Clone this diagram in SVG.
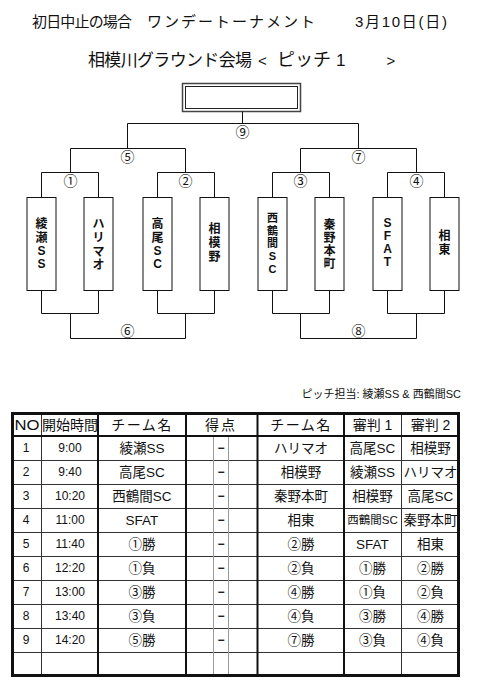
<svg xmlns="http://www.w3.org/2000/svg" width="481" height="696" viewBox="0 0 481 696">
<style>
text{font-family:"Liberation Sans","Noto Sans CJK JP",sans-serif;fill:#111}
.t1{font-size:15px;dominant-baseline:central}
.t2{font-size:17px;dominant-baseline:central}
.num{font-size:14px;text-anchor:middle;dominant-baseline:central;font-family:"Noto Sans CJK JP",sans-serif}
.box{fill:#fff;stroke:#111;stroke-width:1}
.vn{font-size:12px;font-weight:bold;text-anchor:middle;dominant-baseline:central}
.ln{fill:none;stroke:#111;stroke-width:1}
.c{text-anchor:middle;dominant-baseline:central;font-size:13.5px}
.d{text-anchor:middle;dominant-baseline:central;font-size:12px}
.m{text-anchor:middle;dominant-baseline:central;font-size:12px;font-weight:bold}
.h{text-anchor:middle;dominant-baseline:central;font-size:14px}
.thin{stroke:#333;stroke-width:1}
.thick{stroke:#111;stroke-width:2}
.grey{stroke:#999;stroke-width:1}
</style>

<g id="title">
<text class="t1" y="20.5"><tspan x="32" textLength="100" lengthAdjust="spacing">初日中止の場合</tspan><tspan x="147" textLength="168" lengthAdjust="spacing">ワンデートーナメント</tspan><tspan x="355" textLength="92" lengthAdjust="spacing">3月10日(日)</tspan></text>
<text class="t2" y="60" x="88" textLength="164" lengthAdjust="spacing">相模川グラウンド会場</text>
<text y="60" x="262.5" text-anchor="middle" style="font-size:15px;dominant-baseline:central">&lt;</text>
<text y="60" x="277" style="font-size:18px;dominant-baseline:central">ピッチ</text>
<text class="t2" y="60" x="336">1</text>
<text y="60" x="391" text-anchor="middle" style="font-size:15px;dominant-baseline:central">&gt;</text>
</g>

<g id="winner">
<rect x="182.5" y="83.5" width="118" height="28" fill="#fff" stroke="#444" stroke-width="1.5"/>
<rect x="185.5" y="86.5" width="112" height="22" fill="none" stroke="#222" stroke-width="1"/>
</g>

<g id="connectors">
<path class="ln" d="M242.5 111.5V123.5M127.5 123.5H358.5M127.5 123.5V148.5M358.5 123.5V148.5"/>
<path class="ln" d="M70.5 148.5H185.5M70.5 148.5V172.5M185.5 148.5V172.5"/>
<path class="ln" d="M300.5 148.5H416.5M300.5 148.5V172.5M416.5 148.5V172.5"/>
<path class="ln" d="M41.5 172.5H98.5M41.5 172.5V197.5M98.5 172.5V197.5"/>
<path class="ln" d="M157.5 172.5H214.5M157.5 172.5V197.5M214.5 172.5V197.5"/>
<path class="ln" d="M272.5 172.5H329.5M272.5 172.5V197.5M329.5 172.5V197.5"/>
<path class="ln" d="M387.5 172.5H444.5M387.5 172.5V197.5M444.5 172.5V197.5"/>
<path class="ln" d="M41.5 290.5V313.5H98.5V290.5M157.5 290.5V313.5H214.5V290.5M272.5 290.5V313.5H329.5V290.5M387.5 290.5V313.5H444.5V290.5"/>
<path class="ln" d="M70.5 313.5V338.5H185.5V313.5M300.5 313.5V338.5H416.5V313.5"/>
</g>

<g id="labels">
<text class="num" x="242.5" y="131">⑨</text>
<text class="num" x="127.5" y="156">⑤</text>
<text class="num" x="358.5" y="156">⑦</text>
<text class="num" x="70.5" y="180">①</text>
<text class="num" x="185.5" y="180">②</text>
<text class="num" x="300.5" y="180">③</text>
<text class="num" x="416.5" y="180">④</text>
<text class="num" x="127.5" y="330">⑥</text>
<text class="num" x="358.5" y="330">⑧</text>
</g>

<g id="team-ayase">
<rect class="box" x="27" y="197.5" width="29" height="93"/>
<text class="vn"><tspan x="41.5" y="224">綾</tspan><tspan x="41.5" y="237.5">瀬</tspan><tspan x="41.5" y="251">S</tspan><tspan x="41.5" y="264">S</tspan></text>
</g>
<g id="team-harimao">
<rect class="box" x="84" y="197.5" width="29" height="93"/>
<text class="vn"><tspan x="98.5" y="224">ハ</tspan><tspan x="98.5" y="238">リ</tspan><tspan x="98.5" y="252">マ</tspan><tspan x="98.5" y="265">オ</tspan></text>
</g>
<g id="team-takao">
<rect class="box" x="143" y="197.5" width="29" height="93"/>
<text class="vn"><tspan x="157.5" y="224">高</tspan><tspan x="157.5" y="237.5">尾</tspan><tspan x="157.5" y="251">S</tspan><tspan x="157.5" y="264">C</tspan></text>
</g>
<g id="team-sagamino">
<rect class="box" x="200" y="197.5" width="29" height="93"/>
<text class="vn"><tspan x="214.5" y="229">相</tspan><tspan x="214.5" y="243">模</tspan><tspan x="214.5" y="257">野</tspan></text>
</g>
<g id="team-nishitsuruma">
<rect class="box" x="258" y="197.5" width="29" height="93"/>
<text class="vn" style="font-size:11px"><tspan x="272.5" y="218">西</tspan><tspan x="272.5" y="230.7">鶴</tspan><tspan x="272.5" y="243.4">間</tspan><tspan x="272.5" y="256.1">S</tspan><tspan x="272.5" y="268.8">C</tspan></text>
</g>
<g id="team-hadanohonmachi">
<rect class="box" x="315" y="197.5" width="29" height="93"/>
<text class="vn"><tspan x="329.5" y="225">秦</tspan><tspan x="329.5" y="238">野</tspan><tspan x="329.5" y="251">本</tspan><tspan x="329.5" y="264">町</tspan></text>
</g>
<g id="team-sfat">
<rect class="box" x="373" y="197.5" width="29" height="93"/>
<text class="vn"><tspan x="387.5" y="223">S</tspan><tspan x="387.5" y="236">F</tspan><tspan x="387.5" y="249">A</tspan><tspan x="387.5" y="262">T</tspan></text>
</g>
<g id="team-souto">
<rect class="box" x="430" y="197.5" width="29" height="93"/>
<text class="vn"><tspan x="444.5" y="236">相</tspan><tspan x="444.5" y="250">東</tspan></text>
</g>

<g id="pitch-note">
<text x="461" y="394" text-anchor="end" style="font-size:11px;dominant-baseline:central">ピッチ担当: 綾瀬SS &amp; 西鶴間SC</text>
</g>

<g id="schedule">
<g class="thin">
<line x1="12" y1="460.5" x2="459" y2="460.5"/>
<line x1="12" y1="484.5" x2="459" y2="484.5"/>
<line x1="12" y1="508.5" x2="459" y2="508.5"/>
<line x1="12" y1="532.5" x2="459" y2="532.5"/>
<line x1="12" y1="556.5" x2="459" y2="556.5"/>
<line x1="12" y1="580.5" x2="459" y2="580.5"/>
<line x1="12" y1="604.5" x2="459" y2="604.5"/>
<line x1="12" y1="628.5" x2="459" y2="628.5"/>
<line x1="12" y1="652.5" x2="459" y2="652.5"/>
<line x1="41.5" y1="413" x2="41.5" y2="676"/>
<line x1="401.5" y1="413" x2="401.5" y2="676"/>
</g>
<g class="grey">
<line x1="213.5" y1="436" x2="213.5" y2="675"/>
<line x1="228.5" y1="436" x2="228.5" y2="675"/>
</g>
<g class="thick">
<line x1="12" y1="436" x2="459" y2="436"/>
<line x1="98" y1="413" x2="98" y2="676"/>
<line x1="186" y1="413" x2="186" y2="676"/>
<line x1="257.5" y1="413" x2="257.5" y2="676"/>
<line x1="344" y1="413" x2="344" y2="676"/>
</g>
<rect x="12.5" y="413.5" width="446" height="262" fill="none" stroke="#111" stroke-width="3"/>

<text class="h" x="27" y="424.5" textLength="25" lengthAdjust="spacingAndGlyphs">NO</text>
<text class="h" x="70" y="424.5">開始時間</text>
<text class="h" x="142" y="424.5" letter-spacing="1.5">チーム名</text>
<text class="h" x="221" y="424.5" letter-spacing="2">得点</text>
<text class="h" x="301" y="424.5" letter-spacing="1.5">チーム名</text>
<text class="h" x="372.5" y="424.5">審判 1</text>
<text class="h" x="430.5" y="424.5">審判 2</text>

<g class="row">
<text class="d" x="26" y="448">1</text><text class="d" x="70" y="448">9:00</text><text class="c" x="142" y="448">綾瀬SS</text><text class="m" x="221" y="448">−</text><text class="c" x="301" y="448">ハリマオ</text><text class="c" x="372.5" y="448">高尾SC</text><text class="c" x="430.5" y="448">相模野</text>
</g>
<g class="row">
<text class="d" x="26" y="472">2</text><text class="d" x="70" y="472">9:40</text><text class="c" x="142" y="472">高尾SC</text><text class="m" x="221" y="472">−</text><text class="c" x="301" y="472">相模野</text><text class="c" x="372.5" y="472">綾瀬SS</text><text class="c" x="430.5" y="472">ハリマオ</text>
</g>
<g class="row">
<text class="d" x="26" y="496">3</text><text class="d" x="70" y="496">10:20</text><text class="c" x="142" y="496">西鶴間SC</text><text class="m" x="221" y="496">−</text><text class="c" x="301" y="496">秦野本町</text><text class="c" x="372.5" y="496">相模野</text><text class="c" x="430.5" y="496">高尾SC</text>
</g>
<g class="row">
<text class="d" x="26" y="520">4</text><text class="d" x="70" y="520">11:00</text><text class="c" x="142" y="520">SFAT</text><text class="m" x="221" y="520">−</text><text class="c" x="301" y="520">相東</text><text class="c" x="372.5" y="520" style="font-size:11.5px">西鶴間SC</text><text class="c" x="430.5" y="520">秦野本町</text>
</g>
<g class="row">
<text class="d" x="26" y="544">5</text><text class="d" x="70" y="544">11:40</text><text class="c" x="142" y="544">①勝</text><text class="m" x="221" y="544">−</text><text class="c" x="301" y="544">②勝</text><text class="c" x="372.5" y="544">SFAT</text><text class="c" x="430.5" y="544">相東</text>
</g>
<g class="row">
<text class="d" x="26" y="568">6</text><text class="d" x="70" y="568">12:20</text><text class="c" x="142" y="568">①負</text><text class="m" x="221" y="568">−</text><text class="c" x="301" y="568">②負</text><text class="c" x="372.5" y="568">①勝</text><text class="c" x="430.5" y="568">②勝</text>
</g>
<g class="row">
<text class="d" x="26" y="592">7</text><text class="d" x="70" y="592">13:00</text><text class="c" x="142" y="592">③勝</text><text class="m" x="221" y="592">−</text><text class="c" x="301" y="592">④勝</text><text class="c" x="372.5" y="592">①負</text><text class="c" x="430.5" y="592">②負</text>
</g>
<g class="row">
<text class="d" x="26" y="616">8</text><text class="d" x="70" y="616">13:40</text><text class="c" x="142" y="616">③負</text><text class="m" x="221" y="616">−</text><text class="c" x="301" y="616">④負</text><text class="c" x="372.5" y="616">③勝</text><text class="c" x="430.5" y="616">④勝</text>
</g>
<g class="row">
<text class="d" x="26" y="640">9</text><text class="d" x="70" y="640">14:20</text><text class="c" x="142" y="640">⑤勝</text><text class="m" x="221" y="640">−</text><text class="c" x="301" y="640">⑦勝</text><text class="c" x="372.5" y="640">③負</text><text class="c" x="430.5" y="640">④負</text>
</g>
</g>
</svg>
